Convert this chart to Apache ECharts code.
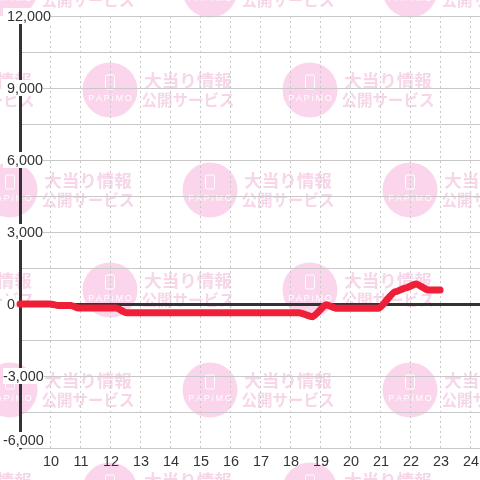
<!DOCTYPE html>
<html lang="ja">
<head>
  <meta charset="UTF-8">
  <title>papimo slump graph</title>
  <style>
    html, body { margin: 0; padding: 0; background: #fff; }
    #myChart { width: 480px; height: 480px; }
  </style>
  <script src="https://cdn.jsdelivr.net/npm/echarts@6/dist/echarts.min.js"></script>
</head>
<body>
<div id="myChart"></div>
<script>
// hour of day, coin difference
var hours = [9, 10, 10.25, 10.7, 10.95, 12.2, 12.55, 18.3, 18.75, 19.2, 19.55, 20.95, 21.5, 21.85, 22.2, 22.6, 23];
var coins = [0, 0, -60, -60, -170, -170, -360, -360, -530, -30, -180, -180, 510, 670, 830, 580, 580];

var hourMin = 9;
var hourMax = 24.33;
var coinMin = -6000;
var coinMax = 12000;
var coinStep = 1500;

// watermark tiled behind the chart
var watermark = [];
function addTile(x, y) {
  watermark.push(
    { type: 'circle', z: -1, silent: true, shape: { cx: x, cy: y, r: 27.5 }, style: { fill: '#fbd5ec' } },
    { type: 'rect', z: -1, silent: true, shape: { x: x - 4.5, y: y - 15, width: 9, height: 14, r: 1.5 },
      style: { fill: 'none', stroke: '#fff', lineWidth: 1 } },
    { type: 'text', z: -1, silent: true, x: x, y: y + 9,
      style: { text: 'P\u2009A\u2009P\u2009i\u2009M\u2009O', fill: '#fff', font: '9px "Liberation Sans"', align: 'center', verticalAlign: 'middle' } },
    { type: 'text', z: -1, silent: true, x: x + 78, y: y - 10,
      style: { text: '大当り情報', fill: '#f6d6e8', font: 'bold 17.5px "Noto Sans CJK JP"', align: 'center', verticalAlign: 'middle' } },
    { type: 'text', z: -1, silent: true, x: x + 78, y: y + 10,
      style: { text: '公開サービス', fill: '#f6d6e8', font: 'bold 15.5px "Noto Sans CJK JP"', align: 'center', verticalAlign: 'middle' } }
  );
}
for (var row = 0; row < 6; row++) {
  var rowY = -10 + row * 100;
  var rowX = row % 2 ? -90 : 10;
  for (var col = 0; col < 3; col++) addTile(rowX + col * 200, rowY);
  if (row % 2) addTile(rowX + 600, rowY);
}

function coinLabel(v) {
  if (v % 3000 !== 0) return '';
  var s = echarts.format.addCommas(v);
  return v < 0 ? s : '{p|' + s + '}';
}

var myChart = echarts.init(document.getElementById('myChart'), null, { renderer: 'canvas' });
myChart.setOption({
  animation: false,
  backgroundColor: '#fff',
  graphic: watermark,
  grid: { left: 20, right: 0, top: 16, bottom: 32, outerBoundsMode: 'none' },
  xAxis: {
    type: 'value',
    min: hourMin,
    max: hourMax,
    interval: 1,
    axisLine: { show: false },
    axisTick: { show: false },
    axisLabel: {
      showMinLabel: false,
      fontFamily: 'Liberation Sans',
      fontSize: 14.4,
      color: '#333',
      margin: 5,
      padding: [2, 0, 0, 2],
      formatter: function (v) { return Number.isInteger(v) ? String(v) : ''; }
    },
    splitLine: { show: true, lineStyle: { color: '#c8c8c8', width: 1, type: [2, 3] } }
  },
  yAxis: {
    type: 'value',
    min: coinMin,
    max: coinMax,
    interval: coinStep,
    axisLine: { show: true, onZero: false, lineStyle: { color: '#333', width: 3 } },
    axisTick: { show: false },
    axisLabel: {
      fontFamily: 'Liberation Sans',
      fontSize: 14.4,
      color: '#333',
      align: 'left',
      margin: 17,
      padding: [2, 0, 0, 0],
      backgroundColor: '#fff',
      verticalAlignMinLabel: 'bottom',
      formatter: coinLabel,
      rich: { p: { padding: [0, 0, 0, 4], fontFamily: 'Liberation Sans', fontSize: 14.4, color: '#333' } }
    },
    splitLine: { show: true, lineStyle: { color: '#c8c8c8', width: 1 } }
  },
  series: [{
    type: 'line',
    data: hours.map(function (h, i) { return [h, coins[i]]; }),
    symbol: 'none',
    smooth: 0.2,
    smoothMonotone: 'x',
    z: 5,
    lineStyle: { color: '#ee1f36', width: 7, cap: 'round', join: 'round' },
    markLine: {
      silent: true,
      z: 3,
      symbol: 'none',
      label: { show: false },
      lineStyle: { color: '#333', width: 3, type: 'solid' },
      data: [{ yAxis: 0 }]
    }
  }]
});
</script>
</body>
</html>
